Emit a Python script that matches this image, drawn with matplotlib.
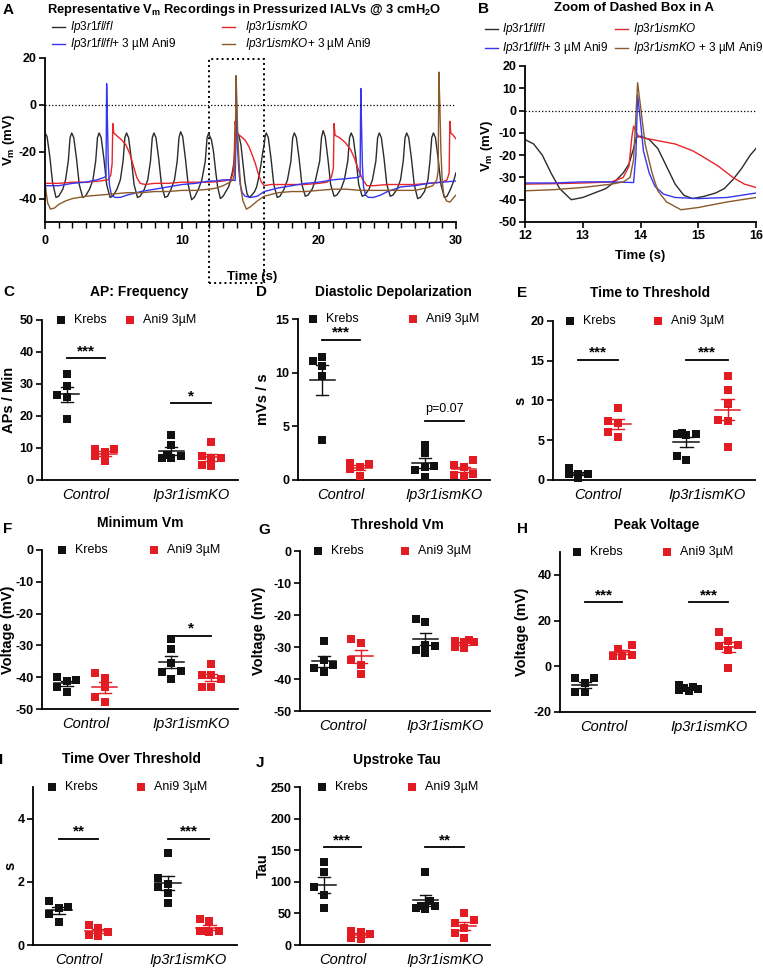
import numpy as np
import matplotlib.pyplot as plt
from matplotlib.lines import Line2D
from matplotlib.patches import Rectangle

plt.rcParams['font.family'] = ['Liberation Sans', 'DejaVu Sans']
plt.rcParams['mathtext.fontset'] = 'custom'
plt.rcParams['mathtext.rm'] = 'Liberation Sans'
plt.rcParams['mathtext.it'] = 'Liberation Sans:italic'
plt.rcParams['mathtext.bf'] = 'Liberation Sans:bold'
plt.rcParams['axes.unicode_minus'] = False

# ---------------- traces (time s, Vm mV) ----------------
t_fl = [0, 0.15, 0.35, 0.55, 0.8, 1.0, 1.3, 1.5,
        1.7, 1.83, 1.95, 2.1, 2.3, 2.5, 2.75, 2.95, 3.25, 3.5,
        3.7, 3.83, 3.95, 4.1, 4.3, 4.5, 4.75, 4.95, 5.25, 5.5,
        5.7, 5.83, 5.95, 6.1, 6.3, 6.5, 6.75, 6.95, 7.25, 7.5,
        7.7, 7.83, 7.95, 8.1, 8.3, 8.5, 8.75, 8.95, 9.2, 9.45,
        9.65, 9.78, 9.9, 10.05, 10.25, 10.45, 10.7, 10.9, 11.2, 11.45,
        11.7, 11.83, 11.95, 12.0, 12.15, 12.3, 12.45, 12.6, 12.8, 13.0, 13.2, 13.4, 13.55,
        13.7, 13.8, 13.88, 13.93, 14.0, 14.15, 14.3, 14.45, 14.6, 14.75, 14.9, 15.1, 15.3,
        15.45, 15.6, 15.75, 15.9,
        16.0, 16.08, 16.15, 16.3, 16.5, 16.7, 16.95, 17.15, 17.45, 17.7,
        17.95, 18.08, 18.2, 18.35, 18.55, 18.75, 19.0, 19.2, 19.5, 19.75,
        20.05, 20.18, 20.3, 20.45, 20.65, 20.85, 21.1, 21.3, 21.6, 21.85,
        22.1, 22.23, 22.35, 22.5, 22.7, 22.9, 23.15, 23.35, 23.65, 23.9,
        24.15, 24.28, 24.4, 24.55, 24.75, 24.95, 25.2, 25.4, 25.7, 25.95,
        26.15, 26.28, 26.4, 26.55, 26.75, 26.95, 27.2, 27.4, 27.7, 27.95,
        28.1, 28.23, 28.35, 28.5, 28.7, 28.9, 29.15, 29.35, 29.6, 29.8, 30.0]
v_fl = [-12, -13.5, -22, -33, -39.5, -39, -36, -32,
        -24, -14, -12, -14, -23, -34, -39.5, -39, -36, -32,
        -24, -14, -12, -14, -23, -34, -39.5, -39, -36, -32,
        -24, -14, -12, -14, -23, -34, -39.5, -39, -36, -32,
        -24, -14, -12, -14, -23, -34, -39.5, -39, -36, -32,
        -24, -14, -11.5, -13.5, -23, -34, -40.5, -39.5, -36, -32,
        -24, -14, -12, -13, -15, -20, -28, -35, -40, -39, -37, -35, -32,
        -28, -24, -17, -12, -11.5, -13, -17, -25, -33, -38, -39.5, -38.5, -37,
        -35, -31, -26, -20,
        -17, -13, -12, -14, -23, -34, -39.5, -39, -36, -32,
        -24, -14, -12, -14, -23, -34, -39, -38.5, -36, -32,
        -24, -14, -11, -13.5, -23, -34, -39, -38.5, -36, -32,
        -24, -14, -12, -14, -23, -34, -39, -38.5, -36, -32,
        -24, -14, -12, -14, -23, -34, -39, -38.5, -36, -32,
        -24, -14, -12, -14, -23, -34, -40, -39.5, -37, -32,
        -24, -14, -12, -14, -23, -34, -39.5, -39, -36, -33, -29]

t_ko = [0, 1, 2, 3, 4, 4.6, 4.8, 4.9, 4.95, 5.02, 5.3, 5.6, 5.9, 6.2, 6.45,
        6.7, 6.95, 7.3, 8, 9, 10, 11, 12, 12.5, 13, 13.5, 13.7, 13.8, 13.85, 13.88,
        13.95, 14.0, 14.3, 14.6, 14.9, 15.1, 15.35, 15.6, 15.8, 16.0, 16.5, 17, 18, 19, 20,
        20.6, 20.9, 21.05, 21.1, 21.17, 21.5, 21.9, 22.3, 22.6, 22.9, 23.2, 23.5, 24, 25, 26,
        27, 28, 29, 29.35, 29.5, 29.55, 29.62, 29.8, 30]
v_ko = [-33.5, -33.5, -33, -33, -32.5, -32, -30, -25, -8, -12, -13.5, -15, -17, -21, -26,
        -31, -33.5, -34, -33.5, -33.5, -33, -33, -33, -32.8, -32.5, -32, -30, -25, -12, -7,
        -11, -12, -13.5, -15, -18, -21, -25, -30, -33, -34.5, -34, -34, -34, -34, -33.5,
        -33, -31, -27, -8, -13, -14, -16, -19, -23, -28, -32, -34.5, -34.5, -34, -34,
        -34, -33.5, -33, -32, -29, -7, -12, -13, -14.5]

t_fl_ani = [0, 1, 2, 3, 3.8, 4.3, 4.45, 4.5, 4.55, 4.62, 4.7, 4.85, 5.1, 5.5, 6,
            7, 8, 9, 10, 11, 12, 12.5, 13, 13.5, 13.88, 13.92, 13.95, 14.0, 14.05, 14.15,
            14.25, 14.4, 14.6, 15, 15.5, 16, 17, 18, 19, 20, 21, 22, 22.8, 23.0, 23.05,
            23.1, 23.17, 23.25, 23.4, 23.6, 24, 24.5, 25, 26, 27, 28, 29, 30]
v_fl_ani = [-34.5, -34.5, -33.5, -33, -32, -31, -30.5, 9, -5, -25, -34, -38.5, -39.5, -39.5, -38.5,
            -37, -36, -35, -34, -33.5, -32.5, -32.5, -32, -32, -32.3, -20, 7, -5, -18, -28,
            -34, -37.5, -39, -39.5, -39, -37, -35.5, -34.5, -33.5, -33, -32, -31.5, -31, -30.5, 7,
            -8, -26, -35, -38.5, -39.5, -39.5, -38.5, -37, -35, -34.5, -33.5, -33, -32.5]

t_ko_ani = [0, 0.1, 0.2, 0.4, 0.7, 1.0, 1.5, 2, 3, 4, 5, 6, 7, 8, 9,
            10, 11, 12, 12.5, 13, 13.5, 13.7, 13.82, 13.88, 13.95, 14.0, 14.08, 14.2, 14.3, 14.45,
            14.7, 15.0, 15.5, 16.0, 17, 18, 19, 20, 21, 22, 23, 24, 25, 26, 27,
            27.8, 28.3, 28.6, 28.7, 28.75, 28.82, 28.9, 29.0, 29.1, 29.3, 29.55, 30]
v_ko_ani = [-33, -38, -42, -44.5, -44, -42.5, -41, -40, -39, -38.5, -38, -37.5, -37.5, -37, -37,
            -36.5, -36.5, -36, -35.5, -34.5, -33, -32, -30, -22, 12.5, 2, -15, -28, -36, -41,
            -44.5, -43.5, -41, -39, -37.5, -37, -37, -36.5, -36, -36, -36.5, -36.5, -36.5, -36.5, -36.5,
            -35.5, -34.5, -32, -28, 14, 0, -20, -33, -38, -41, -41.5, -38.5]

trace_colors = ['#2b2b2b', '#e8262a', '#3535f2', '#8a5a2b']
labels_A = [r'$\mathit{Ip3r1fl/fl}$', r'$\mathit{Ip3r1ismKO}$',
            r'$\mathit{Ip3r1fl/fl}$+ 3 µM Ani9', r'$\mathit{Ip3r1ismKO}$+ 3 µM Ani9']
labels_B = [r'$\mathit{Ip3r1fl/fl}$', r'$\mathit{Ip3r1ismKO}$',
            r'$\mathit{Ip3r1fl/fl}$+ 3 µM Ani9', r'$\mathit{Ip3r1ismKO}$ + 3 µM Ani9']

# ---------------- summary data (Control, Ip3r1ismKO) ----------------
groups = ['Control', 'Ip3r1ismKO']
freq_krebs = [[33, 29.5, 26.5, 26, 19], [14, 11, 7.8, 7.5, 7, 7]]
freq_ani9 = [[9.8, 9.6, 8.6, 7.4, 5.8], [12, 7.5, 7, 7, 4.8, 4.3]]
depol_krebs = [[11.5, 11.1, 10.6, 9.7, 3.7], [3.3, 2.5, 1.3, 1.2, 0.9, 0.3]]
depol_ani9 = [[1.6, 1.5, 1.2, 1.0, 0.35], [1.9, 1.4, 1.2, 0.6, 0.45, 0.4]]
tthr_krebs = [[1.5, 0.8, 0.7, 0.7, 0.3], [5.9, 5.8, 5.8, 5.7, 3.0, 2.5]]
tthr_ani9 = [[9.1, 7.4, 7.2, 6.1, 5.4], [13.1, 11.3, 9.6, 7.6, 7.4, 4.2]]
minvm_krebs = [[-40, -40.8, -41.3, -43, -44.5], [-28, -31, -35.5, -38, -38.5, -40.5]]
minvm_ani9 = [[-38.6, -40.2, -43.2, -46.3, -47.7], [-36, -39.3, -39.3, -40.5, -43.1, -43.1]]
thrvm_krebs = [[-28.1, -34.2, -35.5, -36.5, -37.8], [-21.4, -22.1, -29.4, -29.6, -30.9, -32.0]]
thrvm_ani9 = [[-27.4, -28.9, -34.1, -35.6, -38.4], [-27.8, -28, -28.3, -28.5, -29.9, -30.4]]
peak_krebs = [[-5.1, -5.1, -7.4, -11.4, -11.4], [-8.0, -9.2, -9.5, -9.8, -10.2, -10.8]]
peak_ani9 = [[9.5, 7.6, 5.1, 4.4, 4.4], [14.9, 11.2, 9.5, 8.8, 7.2, -0.7]]
over_krebs = [[1.40, 1.21, 1.16, 0.98, 0.74], [2.9, 2.12, 1.94, 1.84, 1.63, 1.34]]
over_ani9 = [[0.64, 0.53, 0.40, 0.32, 0.29], [0.81, 0.76, 0.43, 0.43, 0.43, 0.40]]
tau_krebs = [[130.7, 115, 92.4, 79.3, 59.3], [116, 69, 62, 61, 58, 57]]
tau_ani9 = [[21.5, 20, 17.8, 10.5, 9.4], [51.4, 38.8, 34.6, 26.8, 19, 11]]

freq_sig = [('***', 38), ('*', 24)]
depol_sig = [('***', 13.05), ('p=0.07', 5.5)]
tthr_sig = [('***', 15.1), ('***', 15.1)]
minvm_sig = [None, ('*', -27)]
thrvm_sig = [None, None]
peak_sig = [('***', 28), ('***', 28)]
over_sig = [('**', 3.37), ('***', 3.37)]
tau_sig = [('***', 155), ('**', 155)]

W, H = 763, 969
BLACK = '#111111'
RED = '#e31b23'

fig = plt.figure(figsize=(W / 100, H / 100), dpi=100)


def fx(x):
    return x / W


def fy(y):
    return 1 - y / H


def add_ax(l, t, r, b):
    return fig.add_axes([fx(l), fy(b), (r - l) / W, (b - t) / H])


def style(ax):
    for s in ['top', 'right']:
        ax.spines[s].set_visible(False)
    for s in ['left', 'bottom']:
        ax.spines[s].set_linewidth(1.3)
    ax.tick_params(width=1.2, length=4, pad=2, labelsize=9)
    for lab in ax.get_yticklabels() + ax.get_xticklabels():
        lab.set_fontweight('bold')


def text(x, y, s, **kw):
    fig.text(fx(x), fy(y), s, **kw)


# ---------------- panel A ----------------
traces = [(t_fl, v_fl), (t_ko, v_ko), (t_fl_ani, v_fl_ani), (t_ko_ani, v_ko_ani)]
axA = add_ax(45, 58, 456, 222)
for (t, v), c in zip(traces, trace_colors):
    axA.plot(t, v, color=c, lw=1.0)
axA.axhline(0, ls=':', color='k', lw=0.9)
axA.set_xlim(0, 30)
axA.set_ylim(-50, 20)
axA.set_xticks([0, 10, 20, 30])
axA.set_xticks(np.arange(0, 31, 1), minor=True)
axA.set_yticks([20, 0, -20, -40])
style(axA)
axA.tick_params(axis='x', which='both', length=5, pad=4)
axA.tick_params(axis='x', which='minor', length=4, width=1.0)
axA.add_patch(Rectangle((12, -76), 4, 95.5, fill=False, ls=':', lw=1.4,
                        color='k', clip_on=False))
text(3, 10, 'A', fontsize=11, fontweight='bold', va='center')
text(47, 10, r'Representative V$_\mathbf{m}$ Recordings in Pressurized IALVs @ 3 cmH$_\mathbf{2}$O',
     fontsize=9.3, fontweight='bold', va='center')
text(9, 140, r'V$_\mathbf{m}$ (mV)', fontsize=9.5, fontweight='bold', rotation=90,
     va='center', ha='center')
text(252, 277, 'Time (s)', fontsize=9.5, fontweight='bold', ha='center', va='center')


def trace_legend(cols, rows, labels):
    k = 0
    for r in rows:
        for (x0, x1, tx) in cols:
            fig.add_artist(Line2D([fx(x0), fx(x1)], [fy(r), fy(r)], color=trace_colors[k],
                                  lw=1.0, transform=fig.transFigure))
            text(tx, r, labels[k], fontsize=8.5, va='center')
            k += 1


trace_legend([(52, 65, 70), (222, 235, 245)], [27, 44], labels_A)

# ---------------- panel B ----------------
axB = add_ax(525, 66, 756, 222)
for (t, v), c in zip(traces, trace_colors):
    axB.plot(t, v, color=c, lw=1.0)
axB.axhline(0, ls=':', color='k', lw=0.9)
axB.set_xlim(12, 16)
axB.set_ylim(-50, 20)
axB.set_xticks([12, 13, 14, 15, 16])
axB.set_yticks(np.arange(-50, 21, 10))
style(axB)
text(478, 9, 'B', fontsize=11, fontweight='bold', va='center')
text(634, 8, 'Zoom of Dashed Box in A', fontsize=9.5, fontweight='bold', ha='center', va='center')
text(487, 146, r'V$_\mathbf{m}$ (mV)', fontsize=9.5, fontweight='bold', rotation=90,
     va='center', ha='center')
text(640, 256, 'Time (s)', fontsize=9.5, fontweight='bold', ha='center', va='center')
trace_legend([(485, 498, 502), (615, 628, 633)], [29, 48], labels_B)

# ---------------- summary panels ----------------
XPOS = [[0.0, 1.0], [2.75, 3.8]]
XLIM = (-0.65, 4.5)
CAND = [0, -9.5, 9.5, -4.75, 4.75]  # horizontal slots in px


def swarm(vals, ppu_x, ppu_y):
    # compact scatter: pick the first free slot, else the least crowded one
    vals = np.asarray(vals, float)
    offs = np.zeros(len(vals))
    placed = []
    for i in np.argsort(vals):
        best, best_cost = 0.0, None
        for o in CAND:
            cost = 0.0
            for po, pv in placed:
                dx = max(0.0, 8.5 - abs(o - po))
                dy = max(0.0, 8.5 - abs(vals[i] - pv) * ppu_y)
                cost += dx * dy
            if best_cost is None or cost < best_cost - 1e-9:
                best, best_cost = o, cost
            if cost == 0:
                break
        offs[i] = best / ppu_x
        placed.append((best, vals[i]))
    return offs


panels = [
    dict(rect=(42, 320, 238, 480), krebs=freq_krebs, ani9=freq_ani9, sig=freq_sig,
         ylim=(0, 50), yticks=np.arange(0, 51, 10), ylabel='APs / Min', ylx=9,
         title='AP: Frequency', tpos=(139, 292), letter='C', lpos=(3, 292), leg=(0.097, 0.45)),
    dict(rect=(298, 319, 490, 480), krebs=depol_krebs, ani9=depol_ani9, sig=depol_sig,
         ylim=(0, 15), yticks=[0, 5, 10, 15], ylabel='mVs / s', ylx=263,
         title='Diastolic Depolarization', tpos=(393, 292), letter='D', lpos=(256, 292),
         leg=(0.078, 0.60)),
    dict(rect=(553, 321, 755, 480), krebs=tthr_krebs, ani9=tthr_ani9, sig=tthr_sig,
         ylim=(0, 20), yticks=[0, 5, 10, 15, 20], ylabel='s', ylx=520,
         title='Time to Threshold', tpos=(650, 293), letter='E', lpos=(517, 293),
         leg=(0.084, 0.52)),
    dict(rect=(42, 550, 238, 709), krebs=minvm_krebs, ani9=minvm_ani9, sig=minvm_sig,
         ylim=(-50, 0), yticks=np.arange(-50, 1, 10), ylabel='Voltage (mV)', ylx=8,
         title='Minimum Vm', tpos=(140, 523), letter='F', lpos=(3, 529), leg=(0.10, 0.57)),
    dict(rect=(300, 551, 490, 711), krebs=thrvm_krebs, ani9=thrvm_ani9, sig=thrvm_sig,
         ylim=(-50, 0), yticks=np.arange(-50, 1, 10), ylabel='Voltage (mV)', ylx=259,
         title='Threshold Vm', tpos=(397, 525), letter='G', lpos=(258, 530), leg=(0.095, 0.55)),
    dict(rect=(560, 552, 755, 712), krebs=peak_krebs, ani9=peak_ani9, sig=peak_sig,
         ylim=(-20, 50), yticks=[-20, 0, 20, 40], ylabel='Voltage (mV)', ylx=522,
         title='Peak Voltage', tpos=(657, 525), letter='H', lpos=(517, 529), leg=(0.087, 0.55)),
    dict(rect=(33, 787, 237, 945), krebs=over_krebs, ani9=over_ani9, sig=over_sig,
         ylim=(0, 5), yticks=[0, 2, 4], ylabel='s', ylx=10,
         title='Time Over Threshold', tpos=(132, 759), letter='I', lpos=(-1, 760),
         leg=(0.093, 0.53)),
    dict(rect=(300, 787, 490, 945), krebs=tau_krebs, ani9=tau_ani9, sig=tau_sig,
         ylim=(0, 250), yticks=np.arange(0, 251, 50), ylabel='Tau', ylx=263,
         title='Upstroke Tau', tpos=(397, 760), letter='J', lpos=(256, 763), leg=(0.116, 0.59)),
]

for p in panels:
    l, t, r, b = p['rect']
    ax = add_ax(l, t, r, b)
    ax.set_xlim(*XLIM)
    ax.set_ylim(*p['ylim'])
    ppu_x = (r - l) / (XLIM[1] - XLIM[0])
    ppu_y = (b - t) / (p['ylim'][1] - p['ylim'][0])
    for gi in range(2):
        for si, (series, col) in enumerate([(p['krebs'], BLACK), (p['ani9'], RED)]):
            vals = np.asarray(series[gi], float)
            x0 = XPOS[gi][si]
            offs = swarm(vals, ppu_x, ppu_y)
            ax.scatter(x0 + offs, vals, marker='s', s=40, color=col, linewidths=0,
                       zorder=3, clip_on=False)
            m = vals.mean()
            se = vals.std(ddof=1) / np.sqrt(len(vals))
            ax.plot([x0 - 0.33, x0 + 0.33], [m, m], color=col, lw=1.1, zorder=4)
            ax.plot([x0, x0], [m - se, m + se], color=col, lw=1.0, zorder=4)
            for yy in (m - se, m + se):
                ax.plot([x0 - 0.16, x0 + 0.16], [yy, yy], color=col, lw=1.0, zorder=4)
        sg = p['sig'][gi]
        if sg is not None:
            lab, yv = sg
            xa, xb = XPOS[gi]
            ax.plot([xa, xb], [yv, yv], color='k', lw=1.3, clip_on=False)
            if lab.startswith('p'):
                ax.annotate(lab, ((xa + xb) / 2, yv), xytext=(0, 4), textcoords='offset points',
                            ha='center', va='bottom', fontsize=9)
            else:
                ax.annotate(lab, ((xa + xb) / 2, yv), xytext=(0, 0), textcoords='offset points',
                            ha='center', va='bottom', fontsize=11, fontweight='bold')
    ax.set_yticks(p['yticks'])
    ax.set_xticks([(XPOS[0][0] + XPOS[0][1]) / 2, (XPOS[1][0] + XPOS[1][1]) / 2])
    ax.set_xticklabels(groups)
    style(ax)
    ax.tick_params(axis='x', length=0, pad=6)
    for lab in ax.get_xticklabels():
        lab.set_fontweight('normal')
        lab.set_fontstyle('italic')
        lab.set_fontsize(10.5)
    # legend
    for xf, col, lab in [(p['leg'][0], BLACK, 'Krebs'), (p['leg'][1], RED, 'Ani9 3µM')]:
        ax.plot([xf], [1.0], marker='s', ms=6.3, color=col, mew=0, transform=ax.transAxes,
                clip_on=False)
        ax.annotate(lab, (xf, 1.0), xycoords='axes fraction', xytext=(9.5, 0),
                    textcoords='offset points', va='center', ha='left', fontsize=9)
    text(p['ylx'], (t + b) / 2, p['ylabel'], fontsize=10.5, fontweight='bold', rotation=90,
         ha='center', va='center')
    text(p['tpos'][0], p['tpos'][1], p['title'], fontsize=10, fontweight='bold',
         ha='center', va='center')
    text(p['lpos'][0], p['lpos'][1], p['letter'], fontsize=11, fontweight='bold', va='center')

fig.savefig('out.png', dpi=100)
plt.close(fig)
